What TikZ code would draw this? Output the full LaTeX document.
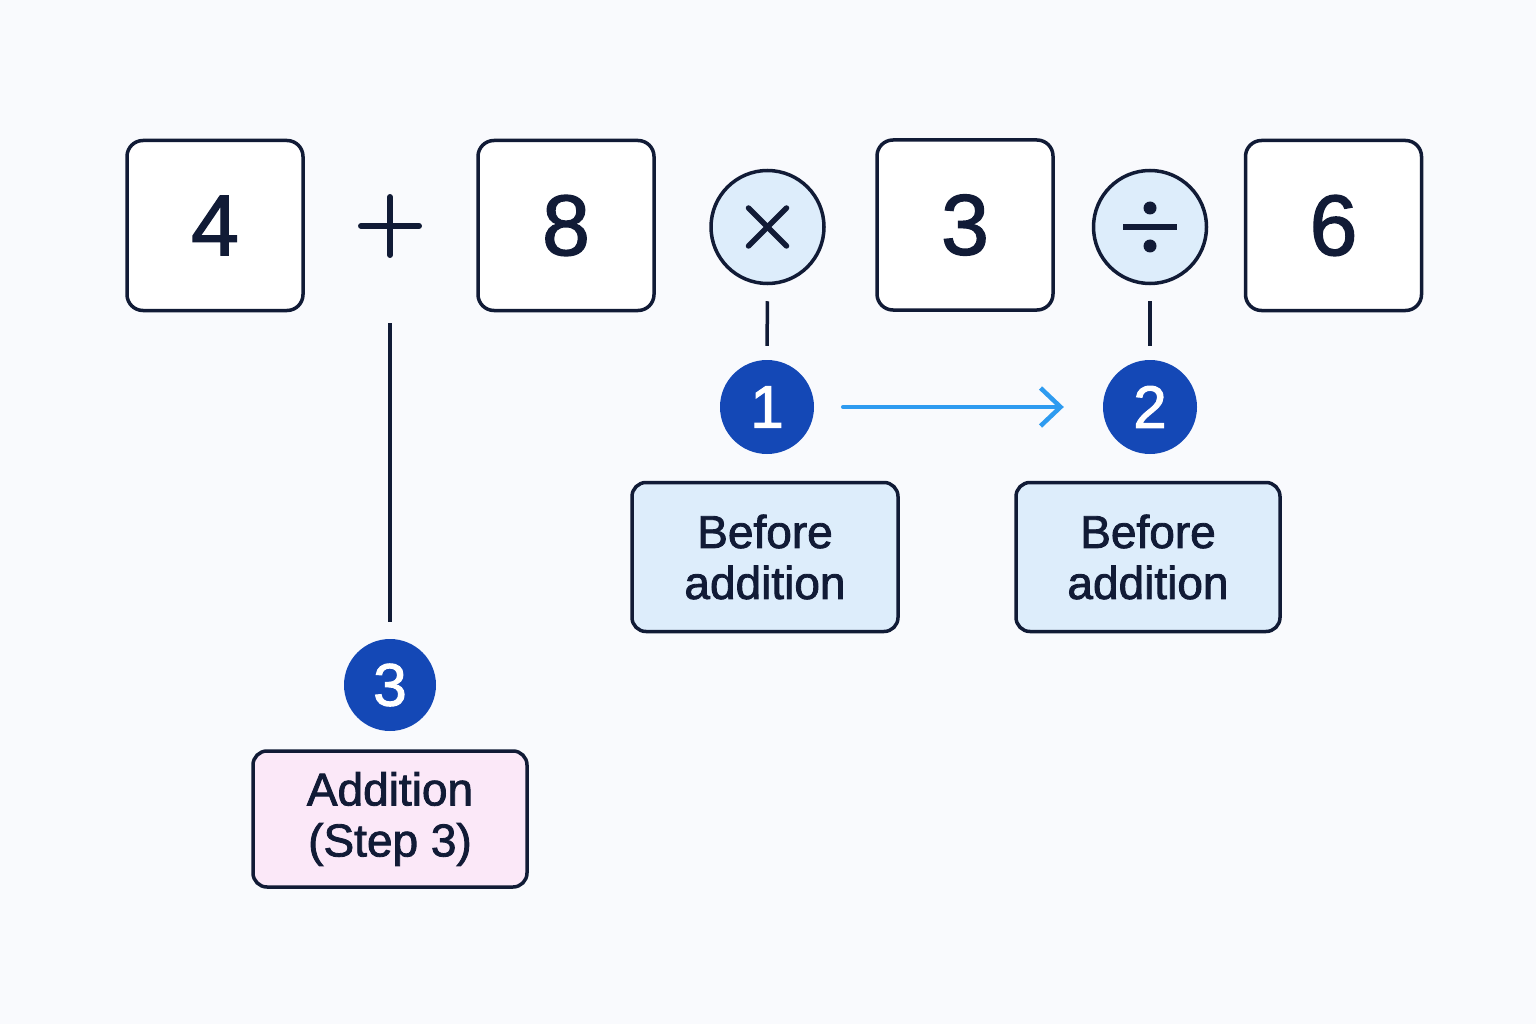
\documentclass[tikz,border=0pt]{standalone}
\usepackage{fontspec}
\setmainfont{Liberation Sans}[FakeBold=1.6]
\newfontfamily\labelfont{Liberation Sans}[FakeBold=1.8]
\usetikzlibrary{arrows.meta}
\definecolor{ink}{HTML}{111B36}
\definecolor{bg}{HTML}{F9FAFD}
\definecolor{stepblue}{HTML}{1448B6}
\definecolor{lightblue}{HTML}{DDEDFB}
\definecolor{lightpink}{HTML}{FBE8F8}
\definecolor{arrowblue}{HTML}{2E9BF0}
\tikzset{
  numbox/.style={draw=ink, line width=3.5pt, rounded corners=16pt, fill=white,
    minimum width=176pt, minimum height=170pt, inner sep=0pt, text=ink,
    font=\fontsize{86}{90}\selectfont},
  opcircle/.style={circle, draw=ink, line width=3.5pt, fill=lightblue,
    minimum size=113pt, inner sep=0pt},
  stepdot/.style={circle, fill=stepblue, minimum size=94pt, inner sep=0pt,
    text=white, font=\labelfont\fontsize{60}{64}\selectfont},
  notebox/.style={draw=ink, line width=3.5pt, rounded corners=14pt,
    inner sep=0pt, text=ink, align=center,
    font=\labelfont\fontsize{46}{51}\selectfont},
  link/.style={draw=ink, line width=3.5pt},
  glyph/.style={draw=ink, line width=5pt, line cap=round},
  flow/.style={draw=arrowblue, line width=4.5pt, line cap=round,
    -{Straight Barb[length=20pt, width=38pt, line width=4.5pt]}}
}
\begin{document}
\begin{tikzpicture}[x=1pt, y=-1pt]
\fill[bg] (0,0) rectangle (1536,1024);
\useasboundingbox (0,0) rectangle (1536,1024);

% numbers
\node[numbox] (n4) at (215,225.5) {4};
\node[numbox] (n8) at (566,225.5) {8};
\node[numbox] (n3) at (965,225) {3};
\node[numbox] (n6) at (1333.5,225.5) {6};

% operators
\node[minimum size=58pt, inner sep=0pt] (plus) at (390,226) {};
\draw[glyph, line width=5.5pt] (plus.west) -- (plus.east);
\draw[glyph, line width=5.5pt] (plus.north) -- (plus.south);

\node[opcircle] (times) at (767.5,227) {};
\draw[glyph, line width=5.5pt] ([shift={(-19,-19)}]times.center) -- ([shift={(19,19)}]times.center);
\draw[glyph, line width=5.5pt] ([shift={(-19,19)}]times.center) -- ([shift={(19,-19)}]times.center);

\node[opcircle] (div) at (1150,227) {};
\draw[glyph, line width=6pt, line cap=butt] ([xshift=-27pt]div.center) -- ([xshift=27pt]div.center);
\fill[ink] ([yshift=-19pt]div.center) circle (6.5pt);
\fill[ink] ([yshift=19pt]div.center) circle (6.5pt);

% step markers
\node[stepdot] (s1) at (767,407) {1};
\node[stepdot] (s2) at (1150,407) {2};
\node[stepdot, minimum size=92pt] (s3) at (390,685) {3};

% notes
\node[notebox, fill=lightblue, minimum width=266pt, minimum height=149pt] (b1) at (765,557) {\raisebox{-3pt}{Before}\\\raisebox{-3pt}{addition}};
\node[notebox, fill=lightblue, minimum width=264pt, minimum height=149pt] (b2) at (1148,557) {\raisebox{-3pt}{Before}\\\raisebox{-3pt}{addition}};
\node[notebox, fill=lightpink, minimum width=274pt, minimum height=136pt] (b3) at (390,819) {\raisebox{-2pt}{Addition}\\\raisebox{-2pt}{(Step 3)}};

% connectors
\draw[link, shorten <=68pt, shorten >=17pt] (plus.south) -- (s3.north);
\draw[link, shorten <=16pt, shorten >=14pt] (times.south) -- (s1.north);
\draw[link, shorten <=16pt, shorten >=14pt] (div.south) -- (s2.north);
\draw[flow, shorten <=29pt, shorten >=39pt] (s1.east) -- (s2.west);
\end{tikzpicture}
\end{document}
